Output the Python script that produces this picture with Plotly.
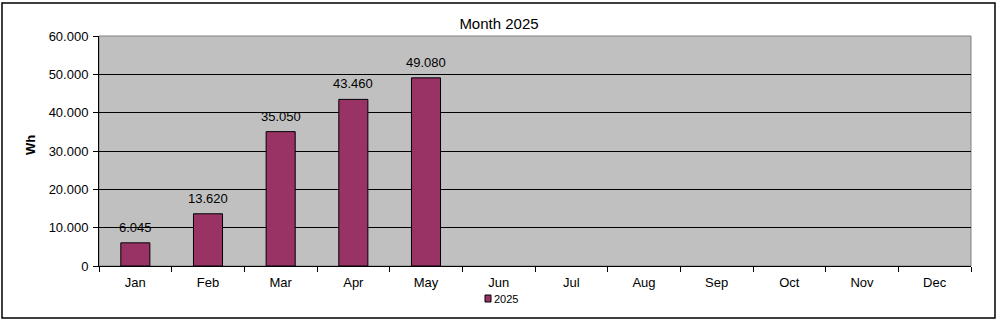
import plotly.graph_objects as go

months = ["Jan", "Feb", "Mar", "Apr", "May", "Jun", "Jul", "Aug", "Sep", "Oct", "Nov", "Dec"]
values = [6045, 13620, 35050, 43460, 49080, None, None, None, None, None, None, None]
series_name = "2025"
y_ticks = [0, 10000, 20000, 30000, 40000, 50000, 60000]

L, R, T, B = 99, 29, 36, 59
W, H = 1000, 325
pw, ph = W - L - R, H - T - B
FONT = "Liberation Sans, Arial"
BAR_COLOR = "#993366"

def px(x):
    return (x - L) / pw

def py(y):
    return (H - B - y) / ph

fig = go.Figure()
fig.add_trace(go.Bar(
    x=months, y=values, name=series_name,
    marker=dict(color=BAR_COLOR, line=dict(color="black", width=1)),
    width=0.4, showlegend=False,
))

# data labels
for m, v in zip(months, values):
    if v is not None:
        fig.add_annotation(x=m, y=v, text=f"{v:,}".replace(",", "."), showarrow=False,
                           yanchor="bottom", yshift=6,
                           font=dict(family=FONT, size=13, color="black"))

fig.add_annotation(text="<b>Wh</b>", xref="paper", yref="paper", x=px(30), y=py(145),
                   xanchor="center", yanchor="middle",
                   textangle=-90, showarrow=False, font=dict(family=FONT, size=13))

# legend (swatch + label)
fig.add_shape(type="rect", xref="paper", yref="paper",
              x0=px(485), x1=px(491), y0=py(302), y1=py(295),
              fillcolor=BAR_COLOR, line=dict(color="black", width=1))
fig.add_annotation(text=series_name, xref="paper", yref="paper", x=px(492), y=py(299),
                   xanchor="left", yanchor="middle", showarrow=False,
                   font=dict(family=FONT, size=11, color="black"))

fig.update_layout(
    width=W, height=H,
    margin=dict(l=L, r=R, t=T, b=B, autoexpand=False),
    separators=",.",
    paper_bgcolor="white",
    plot_bgcolor="#C0C0C0",
    font=dict(family=FONT, size=13, color="black"),
    title=dict(text="Month 2025", x=px(499), xanchor="center", y=1 - 24 / H, yanchor="middle",
               xref="paper", font=dict(size=15)),
    showlegend=False,
    xaxis=dict(
        type="category", categoryorder="array", categoryarray=months,
        showline=True, linecolor="black", linewidth=1,
        ticks="outside", ticklen=5, tickcolor="black", tickson="boundaries",
        showgrid=False, range=[-0.5, 11.5], tickfont=dict(size=13),
        ticklabelstandoff=4, automargin=False,
    ),
    yaxis=dict(
        range=[0, 60000], tickvals=y_ticks, tickformat=",",
        showline=True, linecolor="black", linewidth=1,
        ticks="outside", ticklen=5, tickcolor="black",
        showgrid=True, gridcolor="black", gridwidth=1,
        zeroline=False, automargin=False,
        tickfont=dict(size=13), ticklabelstandoff=2,
    ),
)

fig.add_shape(type="rect", xref="paper", yref="paper", x0=0, x1=1, y0=0, y1=1,
              line=dict(color="#808080", width=1), layer="below")
fig.add_shape(type="rect", xref="paper", yref="paper",
              x0=px(2), x1=px(995), y0=py(318), y1=py(3),
              line=dict(color="black", width=1.5))

fig.write_html("out.html")
